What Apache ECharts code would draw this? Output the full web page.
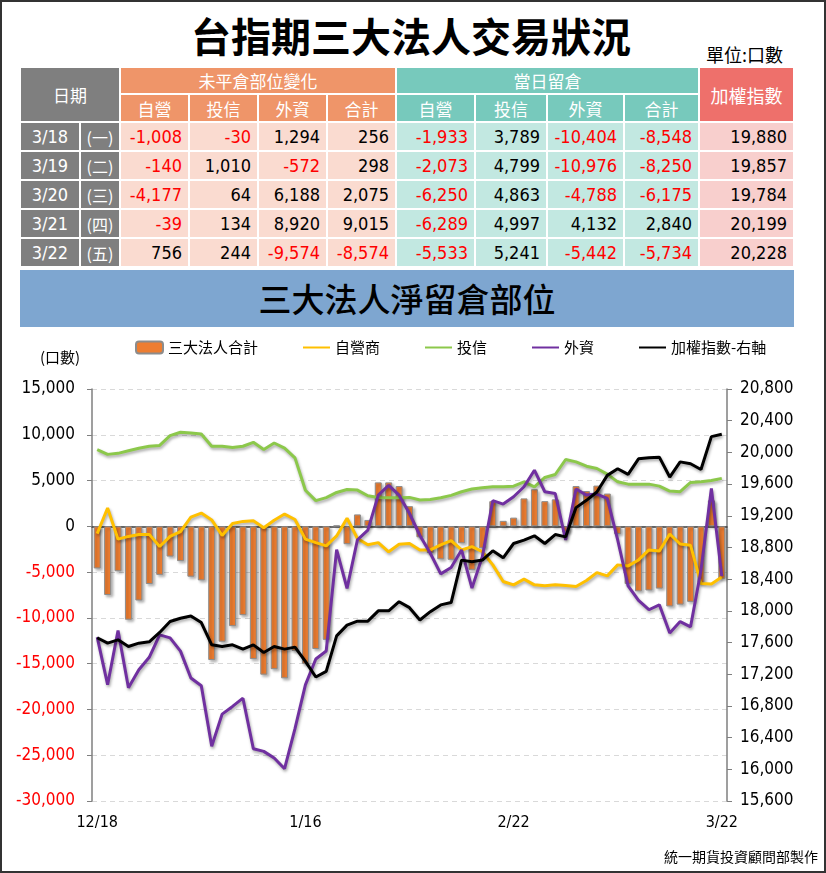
<!DOCTYPE html>
<html>
<head>
<meta charset="utf-8">
<script src="https://cdn.jsdelivr.net/npm/echarts@6/dist/echarts.min.js"></script>
<style>
  html, body { margin:0; padding:0; background:#fff; }
  #page { position:relative; width:826px; height:873px; box-sizing:border-box; border:2px solid #333; overflow:hidden;
          font-family:"Noto Sans CJK TC", "Noto Sans", sans-serif; }
  #title { position:absolute; left:0; width:818px; top:4px; text-align:center; font-size:40px; font-weight:700; color:#000; letter-spacing:0px; }
  #unit { position:absolute; left:704px; top:39px; font-size:18px; color:#000; }
  #tbl { position:absolute; left:17px; top:64px; border-collapse:collapse; table-layout:fixed; }
  #tbl td { border:2px solid #fff; padding:0; white-space:nowrap; overflow:hidden; }
  .hd { color:#fff; text-align:center; font-size:17px; }
  .num { text-align:right; padding-right:6px !important; font-family:"Liberation Sans Narrow","DejaVu Sans Condensed",sans-serif; font-size:18px; }
  .dt { background:#7F7F7F; color:#fff; text-align:center; font-family:"Liberation Sans Narrow","DejaVu Sans Condensed",sans-serif; font-size:18px; }
  .wd { background:#7F7F7F; color:#fff; text-align:center; font-size:16px; }
  #banner { position:absolute; left:18px; top:268px; width:774px; height:57px; background:#7EA6D0; text-align:center;
            line-height:57px; font-size:33px; font-weight:500; color:#000; }
  #chart { position:absolute; left:0; top:326px; width:826px; height:547px; }
  #footer { position:absolute; right:6px; top:844px; font-size:14px; color:#000; }
</style>
</head>
<body>
<div id="page">
  <div id="title">台指期三大法人交易狀況</div>
  <div id="unit">單位:口數</div>
  <table id="tbl"></table>
  <div id="banner">三大法人淨留倉部位</div>
  <div id="chart"></div>
  <div id="footer">統一期貨投資顧問部製作</div>
</div>
<script>
// ---------- table data ----------
const tblDates = ['3/18','3/19','3/20','3/21','3/22'];
const tblWeek = ['(一)','(二)','(三)','(四)','(五)'];
const chgDealer = [-1008, -140, -4177, -39, 756];
const chgTrust = [-30, 1010, 64, 134, 244];
const chgForeign = [1294, -572, 6188, 8920, -9574];
const chgTotal = [256, 298, 2075, 9015, -8574];
const posDealer = [-1933, -2073, -6250, -6289, -5533];
const posTrust = [3789, 4799, 4863, 4997, 5241];
const posForeign = [-10404, -10976, -4788, 4132, -5442];
const posTotal = [-8548, -8250, -6175, 2840, -5734];
const tblIndex = [19880, 19857, 19784, 20199, 20228];

// ---------- chart data ----------
const dates = ['12/18','12/19','12/20','12/21','12/22','12/25','12/26','12/27','12/28','12/29',
  '1/2','1/3','1/4','1/5','1/8','1/9','1/10','1/11','1/12','1/15','1/16',
  '1/17','1/18','1/19','1/22','1/23','1/24','1/25','1/26','1/29','1/30','1/31','2/1','2/2','2/5',
  '2/15','2/16','2/19','2/20','2/21','2/22',
  '2/23','2/26','2/27','2/29','3/1','3/4','3/5','3/6','3/7','3/8','3/11','3/12','3/13','3/14','3/15',
  '3/18','3/19','3/20','3/21','3/22'];
const total = [-4600,-7500,-4900,-10200,-8100,-6300,-5300,-3300,-3800,-5500,
  -5900,-14600,-12600,-10900,-9700,-14500,-16200,-15600,-16600,-13600,-15000,
  -13400,-12400,100,-1950,1300,700,4800,4800,4400,2200,-1200,-2900,-3600,-3650,
  -1850,-4750,-2400,2750,600,950,
  3050,4050,2750,2950,-650,4400,3850,4450,3580,-850,-6300,-7100,-7000,-6800,-8750,
  -8548,-8250,-6175,2840,-5734];
const dealer = [-800,2000,-1400,-1100,-900,-880,-2200,-1100,-580,1000,
  1450,700,-1000,300,540,600,-160,670,1340,750,-1400,
  -1780,-2140,-1050,880,-1330,-2010,-1780,-2780,-1960,-1870,-2590,-2580,-2030,-1560,
  -2580,-2210,-2760,-4210,-6030,-6390,
  -5770,-6390,-6500,-6390,-6460,-6570,-5920,-5050,-5410,-4210,-4320,-3670,-2580,-2690,-835,
  -1933,-2073,-6250,-6289,-5533];
const trust = [8370,7860,7970,8260,8530,8740,8840,9900,10280,10200,
  10080,8750,8750,8600,8750,9180,8400,9100,8550,7480,3940,
  2810,3140,3700,4030,3960,3340,3160,3120,3120,3160,2870,2940,3120,3380,
  3780,4070,4210,4320,4320,4390,
  4860,4320,5340,5660,7300,7040,6570,6320,5700,4860,4610,4610,4610,4390,3850,
  3789,4799,4863,4997,5241];
const foreign = [-12100,-17300,-11380,-17620,-15660,-14300,-11850,-12180,-13630,-16570,
  -17420,-24020,-20510,-19670,-18770,-24290,-24580,-25310,-26470,-22100,-17320,
  -14490,-13610,-2550,-6770,-1470,-420,3400,4480,3400,1400,-1000,-2940,-5190,-4500,
  -2580,-6750,-3300,2800,2430,3230,
  4320,6130,3780,3590,-1490,4070,3410,3520,3050,-1490,-6500,-8100,-9110,-8570,-11650,
  -10404,-10976,-4788,4132,-5442];
const taiex = [17660,17592,17634,17550,17592,17609,17727,17865,17907,17936,
  17852,17571,17550,17571,17517,17571,17475,17550,17517,17542,17362,
  17165,17236,17684,17820,17870,17870,18000,18000,18115,18040,17885,17990,18075,18105,
  18640,18620,18641,18758,18670,18850,
  18892,18947,18850,18963,18934,19303,19395,19500,19710,19794,19722,19919,19932,19940,19689,
  19880,19857,19784,20199,20228];

// ---------- build table ----------
const fmt = v => Number(v).toLocaleString('en-US');
const C_OR_H = '#EF9569', C_OR_D = '#FADBD0';
const C_TE_H = '#77C9BC', C_TE_D = '#C2E8E1';
const C_RD_H = '#EE706B', C_RD_D = '#F8CFCD';
const widths = [60,40,69,69,69,69,79,72,77,75,95];
let html = '<colgroup>' + widths.map(w => `<col style="width:${w}px">`).join('') + '</colgroup>';
html += `<tr style="height:27px">
  <td class="hd" colspan="2" rowspan="2" style="background:#7F7F7F">日期</td>
  <td class="hd" colspan="4" style="background:${C_OR_H}">未平倉部位變化</td>
  <td class="hd" colspan="4" style="background:${C_TE_H}">當日留倉</td>
  <td class="hd" rowspan="2" style="background:${C_RD_H};font-size:18px">加權指數</td></tr>`;
html += '<tr style="height:28px">';
['自營','投信','外資','合計'].forEach(t => html += `<td class="hd" style="background:${C_OR_H}">${t}</td>`);
['自營','投信','外資','合計'].forEach(t => html += `<td class="hd" style="background:${C_TE_H}">${t}</td>`);
html += '</tr>';
const cell = (v, bg) => `<td class="num" style="background:${bg};color:${v < 0 ? '#FF0000' : '#000'}">${fmt(v)}</td>`;
for (let i = 0; i < tblDates.length; i++) {
  html += '<tr style="height:29px">';
  html += `<td class="dt">${tblDates[i]}</td><td class="wd">${tblWeek[i]}</td>`;
  html += cell(chgDealer[i], C_OR_D) + cell(chgTrust[i], C_OR_D) + cell(chgForeign[i], C_OR_D) + cell(chgTotal[i], C_OR_D);
  html += cell(posDealer[i], C_TE_D) + cell(posTrust[i], C_TE_D) + cell(posForeign[i], C_TE_D) + cell(posTotal[i], C_TE_D);
  html += cell(tblIndex[i], C_RD_D);
  html += '</tr>';
}
document.getElementById('tbl').innerHTML = html;

// ---------- chart ----------
const numFont = '"Liberation Sans Narrow","DejaVu Sans Condensed",sans-serif';
const cjkFont = '"Noto Sans CJK TC","Noto Sans",sans-serif';
const chart = echarts.init(document.getElementById('chart'), null, {renderer:'canvas'});
const lineShadow = {shadowColor:'rgba(0,0,0,0.35)', shadowBlur:3, shadowOffsetX:1, shadowOffsetY:2};
const hideSym = {opacity:0};
const option = {
  animation:false,
  textStyle:{fontFamily:cjkFont},
  legend:{
    left:128, top:7, itemWidth:27, itemHeight:12, itemGap:44,
    textStyle:{fontSize:15, color:'#000', fontFamily:cjkFont},
    data:[
      {name:'三大法人合計'},
      {name:'自營商', itemStyle:hideSym},
      {name:'投信', itemStyle:hideSym},
      {name:'外資', itemStyle:hideSym},
      {name:'加權指數-右軸', itemStyle:hideSym}
    ]
  },
  graphic:[{type:'text', left:38, top:22, style:{text:'(口數)', fontSize:15, fill:'#000', fontFamily:cjkFont}}],
  grid:{left:90, right:101, top:61, bottom:74, containLabel:false},
  xAxis:[
    {type:'category', data:dates, position:'bottom', boundaryGap:true,
     axisLine:{show:true, onZero:true, onZeroAxisIndex:0, lineStyle:{color:'#404040', width:1.5}},
     axisTick:{show:false}, axisLabel:{show:false}, splitLine:{show:false}},
    {type:'category', data:dates, position:'bottom', boundaryGap:true,
     axisLine:{show:false, onZero:false}, axisTick:{show:false}, splitLine:{show:false},
     axisLabel:{interval:19, color:'#000', fontSize:16, margin:14, fontFamily:numFont}}
  ],
  yAxis:[
    {type:'value', position:'left', min:-30000, max:15000, interval:5000,
     axisLine:{show:true, lineStyle:{color:'#7F7F7F', width:1.5}},
     axisTick:{show:true, length:5, lineStyle:{color:'#7F7F7F'}},
     axisLabel:{formatter:v => fmt(v), color:v => (Number(v) < 0 ? '#FF0000' : '#000'), fontSize:17, margin:17, fontFamily:numFont},
     splitLine:{show:true, lineStyle:{color:'#D9D9D9', type:[5,4], width:1}}},
    {type:'value', position:'right', min:15600, max:20800, interval:400,
     axisLine:{show:true, lineStyle:{color:'#7F7F7F', width:1.5}},
     axisTick:{show:true, length:5, lineStyle:{color:'#7F7F7F'}},
     axisLabel:{formatter:v => fmt(v), color:'#000', fontSize:17, margin:13, fontFamily:numFont},
     splitLine:{show:false}}
  ],
  series:[
    {name:'三大法人合計', type:'bar', xAxisIndex:0, yAxisIndex:0, data:total, barWidth:7,
     itemStyle:{color:'#ED7D31', borderColor:'#8C8C8C', borderWidth:1,
                shadowColor:'rgba(0,0,0,0.3)', shadowBlur:3, shadowOffsetX:2, shadowOffsetY:2}},
    {name:'自營商', type:'line', xAxisIndex:0, yAxisIndex:0, data:dealer, symbol:'none',
     itemStyle:{color:'#FFC000'}, lineStyle:Object.assign({color:'#FFC000', width:3}, lineShadow)},
    {name:'投信', type:'line', xAxisIndex:0, yAxisIndex:0, data:trust, symbol:'none',
     itemStyle:{color:'#8CC84B'}, lineStyle:Object.assign({color:'#8CC84B', width:3}, lineShadow)},
    {name:'外資', type:'line', xAxisIndex:0, yAxisIndex:0, data:foreign, symbol:'none',
     itemStyle:{color:'#7030A0'}, lineStyle:Object.assign({color:'#7030A0', width:3}, lineShadow)},
    {name:'加權指數-右軸', type:'line', xAxisIndex:0, yAxisIndex:1, data:taiex, symbol:'none',
     itemStyle:{color:'#000'}, lineStyle:Object.assign({color:'#000', width:3}, lineShadow)}
  ]
};
chart.setOption(option);
</script>
</body>
</html>
